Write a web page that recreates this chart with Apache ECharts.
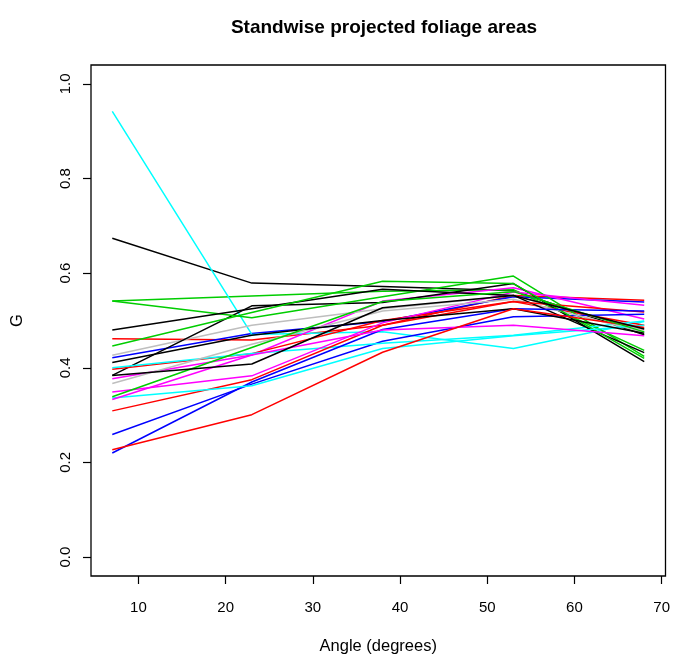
<!DOCTYPE html>
<html>
<head>
<meta charset="utf-8">
<script src="https://cdn.jsdelivr.net/npm/echarts@6/dist/echarts.min.js"></script>
<style>html,body{margin:0;padding:0;background:#fff}#c{width:673px;height:660px}</style>
</head>
<body>
<div id="c"></div>
<script>
// Data
const angles = [7, 23, 38, 53, 68];
const xTicks = [10, 20, 30, 40, 50, 60, 70];
const yTicks = [0.0, 0.2, 0.4, 0.6, 0.8, 1.0];

const black1 = [0.674, 0.579, 0.572, 0.563, 0.470];
const black2 = [0.384, 0.531, 0.538, 0.578, 0.413];
const black3 = [0.480, 0.525, 0.566, 0.553, 0.432];
const black4 = [0.411, 0.469, 0.500, 0.525, 0.473];
const black5 = [0.384, 0.408, 0.527, 0.553, 0.482];
const red1 = [0.4615, 0.459, 0.490, 0.553, 0.543];
const red2 = [0.397, 0.430, 0.500, 0.540, 0.490];
const red3 = [0.309, 0.375, 0.490, 0.540, 0.518];
const red4 = [0.227, 0.301, 0.433, 0.525, 0.485];
const green1 = [0.541, 0.552, 0.562, 0.565, 0.437];
const green2 = [0.541, 0.506, 0.550, 0.594, 0.424];
const green3 = [0.446, 0.517, 0.583, 0.578, 0.420];
const green4 = [0.339, 0.443, 0.540, 0.561, 0.476];
const blue1 = [0.4215, 0.4727, 0.498, 0.550, 0.539];
const blue2 = [0.259, 0.3655, 0.456, 0.508, 0.513];
const blue3 = [0.220, 0.370, 0.481, 0.525, 0.520];
const cyan1 = [0.942, 0.4706, 0.476, 0.441, 0.498];
const cyan2 = [0.400, 0.430, 0.452, 0.469, 0.499];
const cyan3 = [0.336, 0.362, 0.441, 0.468, 0.490];
const magenta1 = [0.377, 0.427, 0.541, 0.569, 0.503];
const magenta2 = [0.349, 0.383, 0.495, 0.560, 0.532];
const magenta3 = [0.333, 0.427, 0.480, 0.490, 0.468];
const gray1 = [0.4265, 0.490, 0.525, 0.553, 0.480];
const gray2 = [0.367, 0.450, 0.520, 0.545, 0.475];

const lines = [
  [black1, '#000000'], [red1, '#FF0000'], [green1, '#00CD00'], [blue1, '#0000FF'],
  [cyan1, '#00FFFF'], [magenta1, '#FF00FF'], [gray1, '#BEBEBE'],
  [black2, '#000000'], [red2, '#FF0000'], [green2, '#00CD00'], [blue2, '#0000FF'],
  [cyan2, '#00FFFF'], [magenta2, '#FF00FF'], [gray2, '#BEBEBE'],
  [black3, '#000000'], [red3, '#FF0000'], [green3, '#00CD00'], [blue3, '#0000FF'],
  [cyan3, '#00FFFF'], [magenta3, '#FF00FF'],
  [black4, '#000000'], [red4, '#FF0000'], [green4, '#00CD00'], [black5, '#000000']
];

const font = '"Liberation Sans", Arial, Helvetica, sans-serif';
const chart = echarts.init(document.getElementById('c'), null, {renderer: 'canvas'});
chart.setOption({
  animation: false,
  backgroundColor: '#ffffff',
  title: {
    text: 'Standwise projected foliage areas',
    left: 379, top: 13, textAlign: 'center',
    textStyle: {fontFamily: font, fontSize: 19, fontWeight: 'bold', color: '#000'}
  },
  grid: {left: 91, right: 5, top: 65, bottom: 80, show: true, borderColor: '#000', borderWidth: 1.3, backgroundColor: 'transparent'},
  xAxis: {
    type: 'value', min: 4.56, max: 70.44,
    name: 'Angle (degrees)', nameLocation: 'middle', nameGap: 62,
    nameTextStyle: {fontFamily: font, fontSize: 16.5, color: '#000'},
    axisLine: {show: false, onZero: false},
    axisTick: {show: true, inside: false, length: 8, customValues: xTicks, lineStyle: {color: '#000', width: 1.2}},
    axisLabel: {customValues: xTicks, margin: 24, fontFamily: font, fontSize: 15, color: '#000'},
    splitLine: {show: false}
  },
  yAxis: {
    type: 'value', min: -0.04, max: 1.04,
    name: 'G', nameLocation: 'middle', nameGap: 65, nameRotate: 90,
    nameTextStyle: {fontFamily: font, fontSize: 16.5, color: '#000'},
    axisLine: {show: false, onZero: false},
    axisTick: {show: true, inside: false, length: 8, customValues: yTicks, lineStyle: {color: '#000', width: 1.2}},
    axisLabel: {customValues: yTicks, rotate: 90, margin: 18, fontFamily: font, fontSize: 15, color: '#000',
      formatter: v => v.toFixed(1)},
    splitLine: {show: false}
  },
  series: lines.map(([vals, col]) => ({
    type: 'line', silent: true, showSymbol: false, symbol: 'none',
    data: angles.map((a, i) => [a, vals[i]]),
    lineStyle: {color: col, width: 1.5},
    itemStyle: {color: col}
  }))
});
</script>
</body>
</html>
